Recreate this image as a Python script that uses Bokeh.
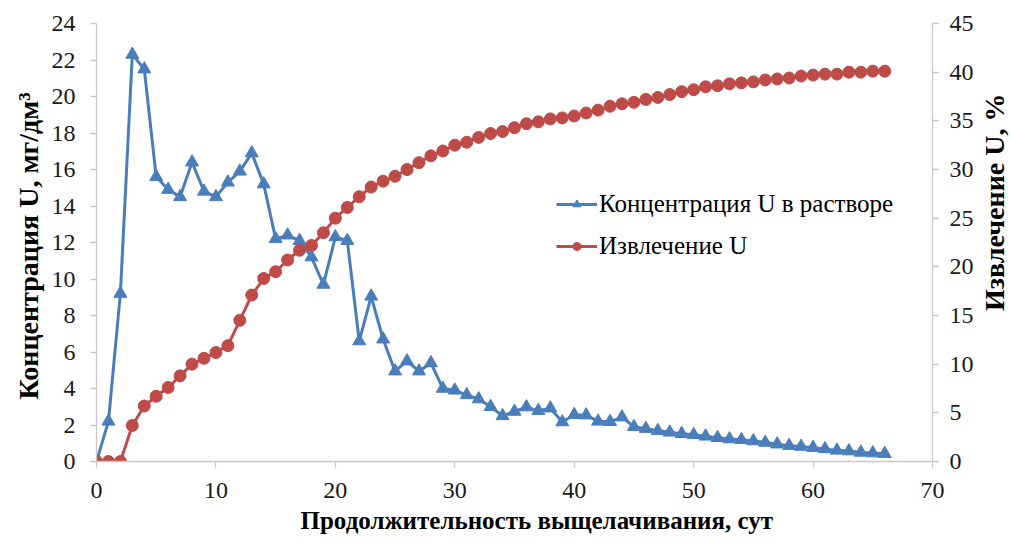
import math
from bokeh.plotting import figure
from bokeh.layouts import row
from bokeh.core.properties import value
from bokeh.models import (Range1d, LinearAxis, SingleIntervalTicker,
                          Legend, LegendItem, Title)
from bokeh.embed import file_html
from bokeh.resources import INLINE

days = list(range(0, 67))
concentration = [0.0, 2.2, 9.2, 22.3, 21.5, 15.6, 14.9, 14.5, 16.4, 14.8,
                 14.5, 15.3, 15.9, 16.9, 15.2, 12.2, 12.4, 12.1, 11.2, 9.7,
                 12.3, 12.1, 6.6, 9.05, 6.7, 4.95, 5.5, 4.95, 5.4, 4.0,
                 3.9, 3.65, 3.42, 3.0, 2.5, 2.74, 2.98, 2.78, 2.92, 2.16,
                 2.56, 2.54, 2.2, 2.18, 2.43, 1.9, 1.8, 1.68, 1.6, 1.52,
                 1.46, 1.38, 1.3, 1.23, 1.19, 1.12, 1.04, 0.95, 0.87, 0.82,
                 0.76, 0.69, 0.61, 0.57, 0.5, 0.46, 0.43]
extraction = [0.0, 0.0, 0.0, 3.7, 5.7, 6.7, 7.6, 8.8, 10.0, 10.6,
              11.2, 11.9, 14.5, 17.1, 18.8, 19.5, 20.7, 21.7, 22.2, 23.5,
              25.0, 26.1, 27.2, 28.2, 28.8, 29.3, 30.0, 30.7, 31.4, 31.9,
              32.5, 32.8, 33.3, 33.7, 33.9, 34.3, 34.7, 34.9, 35.2, 35.3,
              35.5, 35.8, 36.1, 36.5, 36.75, 36.9, 37.2, 37.4, 37.7, 38.0,
              38.2, 38.5, 38.6, 38.8, 38.9, 39.0, 39.2, 39.3, 39.4, 39.6,
              39.7, 39.8, 39.8, 40.0, 40.0, 40.1, 40.1]

x_title = "Продолжительность  выщелачивания, сут"
y_left_title = "Концентрация  U, мг/дм³"
y_right_title = "Извлечение U, %"
label_conc = "Концентрация U в растворе"
label_extr = "Извлечение U"

BLUE = "#4A7EBB"
RED = "#BE4B48"
AXIS = "#C8C8C8"
FONT = "Liberation Serif"
TICK_SIZE = "24px"

MAIN_W = 976
SIDE_W = 35
H = 544

p = figure(width=MAIN_W, height=H, x_range=Range1d(0, 70), y_range=Range1d(0, 24),
           output_backend="svg", toolbar_location=None,
           min_border_left=96, min_border_right=MAIN_W - 935, min_border_top=23,
           min_border_bottom=83)
p.outline_line_color = None
p.xgrid.visible = False
p.ygrid.visible = False
p.extra_y_ranges = {"right": Range1d(0, 45)}

right_axis = LinearAxis(y_range_name="right", ticker=SingleIntervalTicker(interval=5))
p.add_layout(right_axis, "right")

p.xaxis.ticker = SingleIntervalTicker(interval=10)
p.yaxis[0].ticker = SingleIntervalTicker(interval=2)

for ax in [p.xaxis[0], p.yaxis[0], right_axis]:
    ax.axis_line_color = AXIS
    ax.axis_line_width = 1.3
    ax.major_tick_line_color = AXIS
    ax.major_tick_line_width = 1.3
    ax.major_tick_in = 0
    ax.major_tick_out = 6
    ax.minor_tick_line_color = None
    ax.major_label_text_font = FONT
    ax.major_label_text_font_size = TICK_SIZE
    ax.major_label_text_color = "#1a1a1a"
    ax.axis_label_text_font = FONT
    ax.axis_label_text_font_style = "bold"
    ax.axis_label_text_color = "#000000"

p.xaxis[0].major_label_standoff = 15
p.yaxis[0].axis_label = y_left_title
p.yaxis[0].axis_label_text_font_size = "28px"
p.yaxis[0].major_label_standoff = 15
p.yaxis[0].axis_label_standoff = 5
right_axis.major_label_standoff = 11

# x-axis title, placed a little right of centre as in the original
p.add_layout(Title(text=x_title, align="left", offset=204, standoff=9,
                   text_font=FONT, text_font_size="25px", text_font_style="bold",
                   text_color="#000000"), "below")

l1 = p.line(days, concentration, line_color=BLUE, line_width=3)
s1 = p.scatter(days, concentration, marker="triangle", size=13, fill_color=BLUE, line_color=BLUE)
l2 = p.line(days, extraction, line_color=RED, line_width=3, y_range_name="right")
s2 = p.scatter(days, extraction, marker="circle", size=12, fill_color=RED, line_color=RED,
               y_range_name="right")

legend = Legend(items=[LegendItem(label=label_conc, renderers=[l1, s1]),
                       LegendItem(label=label_extr, renderers=[l2, s2])],
                location=(460, 201), orientation="vertical")
legend.border_line_color = None
legend.background_fill_alpha = 0
legend.padding = 0
legend.margin = 0
legend.spacing = 14
legend.glyph_width = 41
legend.glyph_height = 20
legend.label_standoff = 2
legend.label_text_font = FONT
legend.label_text_font_size = "25px"
legend.label_text_color = "#000000"
p.add_layout(legend, "center")

# narrow strip to the right carrying the right-axis title (reads bottom-to-top)
p2 = figure(width=SIDE_W, height=H, x_range=Range1d(0, SIDE_W), y_range=Range1d(0, H),
            output_backend="svg", toolbar_location=None,
            x_axis_location=None, y_axis_location=None, min_border=0)
p2.outline_line_color = None
p2.grid.visible = False
p2.text(x=[SIDE_W / 2], y=[H - 222], text=[y_right_title], angle=math.pi / 2,
        text_align="center", text_baseline="middle",
        text_font=value(FONT), text_font_size="28px", text_font_style="bold",
        text_color="#000000")

layout = row(p, p2, spacing=0)
open("out.html", "w").write(file_html(layout, INLINE))
